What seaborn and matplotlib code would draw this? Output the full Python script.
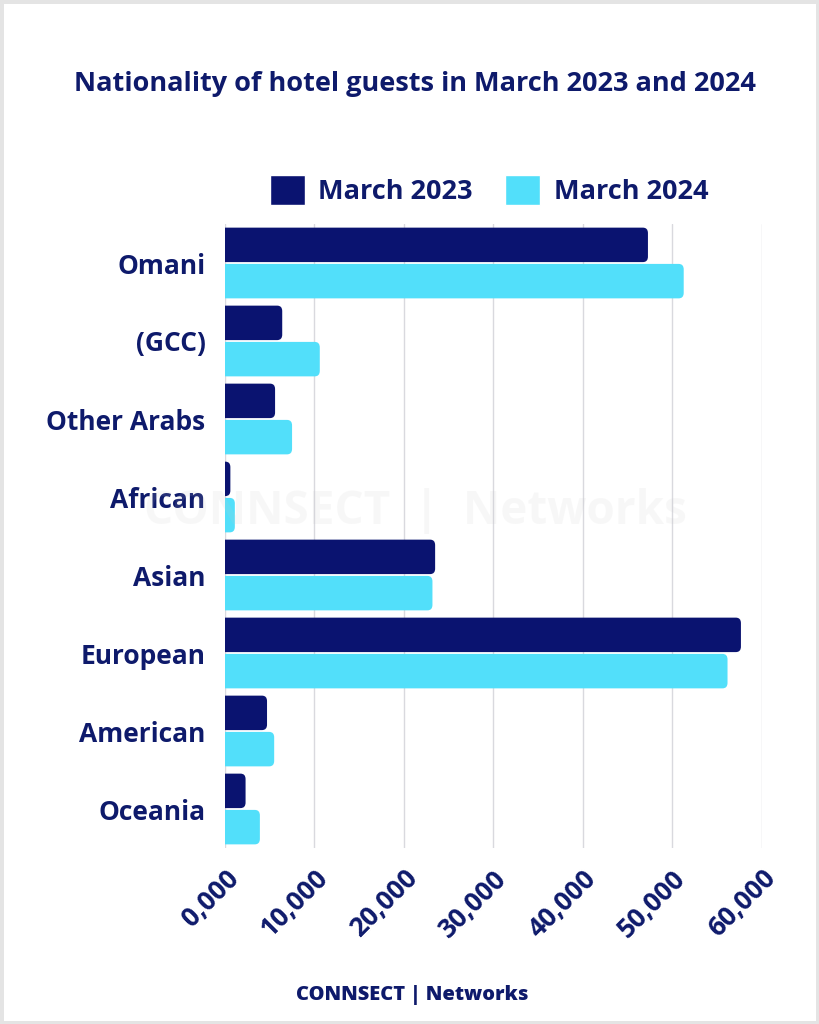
import matplotlib
matplotlib.use("Agg")
import matplotlib.pyplot as plt
from matplotlib.patches import FancyBboxPatch, Rectangle, Patch
import seaborn as sns
import pandas as pd

categories = ["Omani", "(GCC)", "Other Arabs", "African", "Asian", "European", "American", "Oceania"]
march_2023 = [47300, 6400, 5600, 600, 23500, 57700, 4700, 2300]
march_2024 = [51300, 10600, 7500, 1100, 23200, 56200, 5500, 3900]
series_names = ["March 2023", "March 2024"]
x_ticks = [0, 10000, 20000, 30000, 40000, 50000, 60000]
x_tick_labels = ["0,000", "10,000", "20,000", "30,000", "40,000", "50,000", "60,000"]

NAVY = "#0A1370"
CYAN = "#52DFFA"
TEXT = "#0E1A6B"
FONT = ["Open Sans", "DejaVu Sans"]

df = pd.DataFrame({
    "Nationality": categories * 2,
    "Guests": march_2023 + march_2024,
    "Period": [series_names[0]] * len(categories) + [series_names[1]] * len(categories),
})

sns.set_theme(style="white")
plt.rcParams["font.family"] = FONT

fig = plt.figure(figsize=(8.19, 10.24), dpi=100)
ax = fig.add_axes([225 / 819, 1 - 848 / 1024, (761.5 - 225) / 819, 624 / 1024])

sns.barplot(data=df, y="Nationality", x="Guests", hue="Period", order=categories,
            hue_order=series_names, palette=[NAVY, CYAN], orient="h", saturation=1,
            width=0.93, gap=0.05, ax=ax, legend=False, zorder=3)

ax.set_xlim(0, 60000)
ax.set_ylim(len(categories) - 0.5, -0.5)

# rounded bar ends
rx = 560
ry_per_x = 0.07 / rx
old = list(ax.patches)
for p in old:
    x, y = p.get_x(), p.get_y()
    w, h = p.get_width(), p.get_height()
    fc = p.get_facecolor()
    p.remove()
    fb = FancyBboxPatch((x - 2 * rx, y), w + 2 * rx, h,
                        boxstyle=f"round,pad=0,rounding_size={rx}",
                        mutation_aspect=ry_per_x, facecolor=fc, edgecolor="none",
                        zorder=3, clip_on=True)
    ax.add_patch(fb)

ax.set_xticks(x_ticks)
ax.set_xticklabels(x_tick_labels)
ax.grid(axis="x", color="#D9D9DE", linewidth=1, zorder=0)
ax.grid(axis="y", visible=False)
for s in ax.spines.values():
    s.set_visible(False)
ax.tick_params(axis="both", length=0)
ax.set_xlabel("")
ax.set_ylabel("")

for lab in ax.get_yticklabels():
    lab.set_fontsize(19)
    lab.set_fontweight("bold")
    lab.set_color(TEXT)
ax.tick_params(axis="y", pad=14)
for lab in ax.get_xticklabels():
    lab.set_fontsize(19)
    lab.set_fontweight("bold")
    lab.set_color(TEXT)
    lab.set_rotation(45)
    lab.set_ha("right")
    lab.set_va("top")
    lab.set_rotation_mode("anchor")
ax.tick_params(axis="x", pad=12)

handles = [Patch(facecolor=NAVY), Patch(facecolor=CYAN)]
leg = fig.legend(handles, series_names, loc="center", bbox_to_anchor=(489 / 819, 1 - 190 / 1024),
                 ncol=2, frameon=False, handlelength=1.3, handleheight=1.3,
                 columnspacing=1.2, handletextpad=0.5,
                 prop={"size": 19.5, "weight": "bold"})
for t in leg.get_texts():
    t.set_color(TEXT)

fig.text(415 / 819, 1 - 84 / 1024, "Nationality of hotel guests in March 2023 and 2024",
         ha="center", va="center", fontsize=19.5, fontweight="bold", color=TEXT)

fig.text(415 / 819, 1 - 512 / 1024, "CONNSECT  |  Networks", ha="center", va="center",
         fontsize=33, fontweight="bold", color="#C8C8C8", alpha=0.13, zorder=0)

fig.text(412 / 819, 1 - 995 / 1024, "CONNSECT | Networks", ha="center", va="center",
         fontsize=14.4, fontweight="heavy", color=TEXT)

fig.patches.append(Rectangle((0, 0), 1, 1, transform=fig.transFigure, fill=False,
                             edgecolor="#E4E4E4", linewidth=5))

fig.savefig("out.png", dpi=100, facecolor="white")
